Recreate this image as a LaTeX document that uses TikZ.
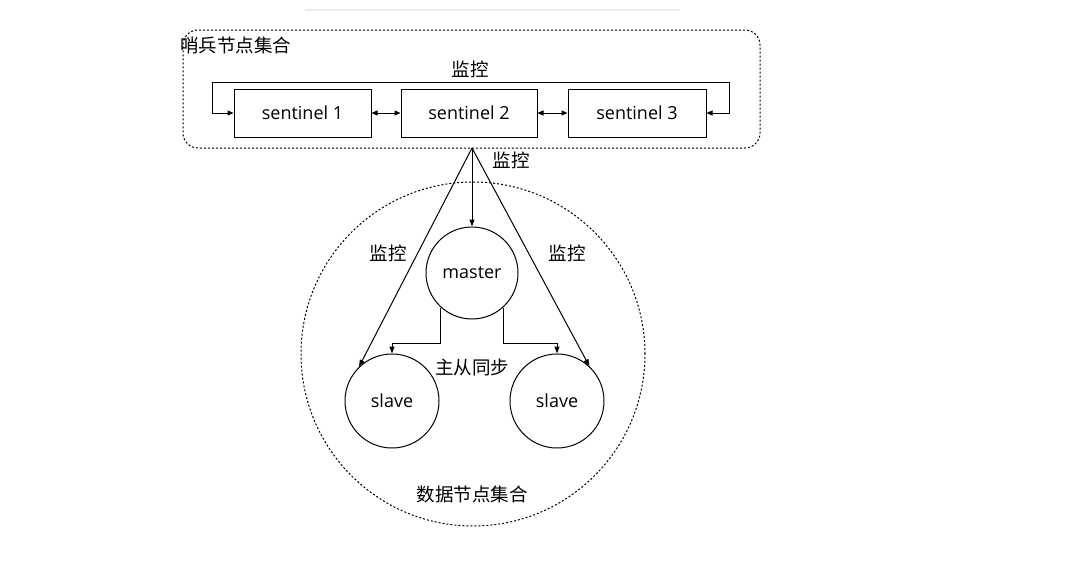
\documentclass[tikz,border=0pt]{standalone}
\usepackage{fontspec}
\setmainfont{Open Sans}
\newfontfamily\cjk{Noto Sans CJK SC}
\usetikzlibrary{arrows.meta}
\tikzset{
  arr/.style={-{Triangle[length=7pt,width=5pt]}, line width=1pt},
  darr/.style={{Triangle[length=6pt,width=5pt]}-{Triangle[length=6pt,width=5pt]}, line width=1pt},
  sbox/.style={draw, line width=1pt, minimum height=48pt, font=\fontsize{18}{20}\selectfont, inner sep=0pt},
  circ/.style={draw, circle, line width=1pt, inner sep=0pt, font=\fontsize{18}{20}\selectfont},
  dots/.style={draw, line width=1pt, dash pattern=on 2pt off 2pt},
  lab/.style={font=\cjk\fontsize{18.5}{20}\selectfont, inner sep=0pt},
}
\begin{document}
\begin{tikzpicture}[x=1pt,y=-1pt]
\useasboundingbox (0,0) rectangle (1069,562);
\fill[white] (0,0) rectangle (1069,562);
\draw[black!8, line width=1.5pt] (305,10) -- (680,10);
% sentinel group
\node[dots, rounded corners=15pt, minimum width=577pt, minimum height=118pt, inner sep=0pt] (grp) at (471.5,89) {};
\node[lab, anchor=west] (grplab) at (180,45) {哨兵节点集合};
\node[sbox, minimum width=137pt] (s1) at (302.5,113) {sentinel 1};
\node[sbox, minimum width=136pt] (s2) at (469,113) {sentinel 2};
\node[sbox, minimum width=138pt] (s3) at (637,113) {sentinel 3};
\draw[darr] (s1) -- (s2);
\draw[darr] (s2) -- (s3);
\coordinate (lt) at (212,82);
\coordinate (rt) at (729,82);
\draw[darr] (s1.west) -| (lt) -- (rt) |- (s3.east);
\node[lab] (toplab) at (470,69) {监控};
% data group
\node[dots, circle, minimum size=344pt, inner sep=0pt] (dgrp) at (473,354) {};
\node[circ, minimum size=92pt] (m) at (472,273) {master};
\node[circ, minimum size=94pt] (sl) at (392,401) {slave};
\node[circ, minimum size=94pt] (sr) at (557,401) {slave};
\coordinate (apex) at (472,148);
\draw[arr] (apex) -- (m.north);
\draw[arr] (apex) -- (sl.134);
\draw[arr] (apex) -- (sr.47);
\draw[arr] (m.228) -- ++(0,36) -| (sl.north);
\draw[arr] (m.312) -- ++(0,36) -| (sr.north);
\node[lab] (l1) at (511,160) {监控};
\node[lab] (l2) at (388,253) {监控};
\node[lab] (l3) at (567,253) {监控};
\node[lab] (sync) at (472,367) {主从同步};
\node[lab] (dlab) at (472,494) {数据节点集合};
\end{tikzpicture}
\end{document}
